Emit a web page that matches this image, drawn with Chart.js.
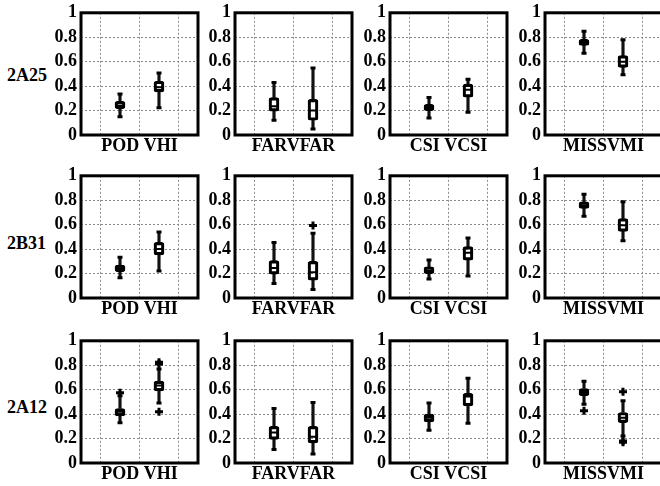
<!DOCTYPE html>
<html>
<head>
<meta charset="utf-8">
<script src="https://cdn.jsdelivr.net/npm/chart.js@4/dist/chart.umd.min.js"></script>
<style>
  html, body { margin: 0; padding: 0; background: #fff; }
  #wrap { position: relative; width: 660px; height: 486px; overflow: hidden; background: #fff; }
  #wrap canvas { position: absolute; }
  .row-name { position: absolute; left: 7px; height: 18px; line-height: 18px;
              font: bold 18px "Liberation Serif", "DejaVu Serif", serif; color: #000; white-space: nowrap; }
</style>
</head>
<body>
<div id="wrap"></div>
<script>
// Row (product) names and panel (score pair) titles
const rowNames = ['2A25', '2B31', '2A12'];
const panelTitles = ['POD VHI', 'FARVFAR', 'CSI VCSI', 'MISSVMI'];
const yTicks = [0, 0.2, 0.4, 0.6, 0.8, 1];
// category slots: the two boxes sit on the inner slots
const xSlots = ['s0', 'b1', 'b2', 's3'];

// Box statistics, indexed [row][panel][box]
const whiskerLow = [
  [[0.15, 0.223], [0.12, 0.05], [0.14, 0.187], [0.67, 0.493]],
  [[0.165, 0.22], [0.118, 0.069], [0.155, 0.18], [0.67, 0.469]],
  [[0.33, 0.49], [0.11, 0.074], [0.267, 0.325], [0.48, 0.22]]
];
const quart1 = [
  [[0.215, 0.353], [0.196, 0.121], [0.2, 0.31], [0.733, 0.554]],
  [[0.215, 0.353], [0.196, 0.146], [0.2, 0.31], [0.733, 0.545]],
  [[0.386, 0.59], [0.193, 0.165], [0.336, 0.468], [0.55, 0.33]]
];
const medians = [
  [[0.24, 0.39], [0.235, 0.2], [0.225, 0.37], [0.76, 0.6]],
  [[0.245, 0.4], [0.245, 0.21], [0.225, 0.37], [0.76, 0.595]],
  [[0.42, 0.634], [0.25, 0.215], [0.37, 0.545], [0.58, 0.37]]
];
const quart3 = [
  [[0.275, 0.44], [0.306, 0.292], [0.25, 0.416], [0.783, 0.65]],
  [[0.27, 0.455], [0.306, 0.3], [0.256, 0.42], [0.788, 0.65]],
  [[0.446, 0.67], [0.3, 0.3], [0.4, 0.57], [0.61, 0.413]]
];
const whiskerHigh = [
  [[0.335, 0.507], [0.43, 0.548], [0.306, 0.457], [0.849, 0.78]],
  [[0.333, 0.54], [0.455, 0.53], [0.31, 0.49], [0.849, 0.788]],
  [[0.55, 0.77], [0.446, 0.496], [0.49, 0.694], [0.67, 0.51]]
];
const outliers = [
  [[[], []], [[], []], [[], []], [[], []]],
  [[[], []], [[], [0.593]], [[], []], [[], []]],
  [[[0.575], [0.81, 0.825, 0.42]], [[], []], [[], []], [[0.427], [0.584, 0.18, 0.17]]]
];

// frame placement on the page
const colLeft = [81, 235, 390, 545];
const rowTop = [12, 175, 340];
const plotW = 118, plotH = 121;
const axisW = 60, padTop = 14, padRight = 6, xAxisH = 22;

const serif = '"Liberation Serif", "DejaVu Serif", serif';
const wrap = document.getElementById('wrap');

// draws the closed black frame round the plot area
const framePlugin = {
  id: 'frame',
  afterDraw(chart) {
    const a = chart.chartArea, ctx = chart.ctx;
    ctx.save();
    ctx.strokeStyle = '#000';
    ctx.lineWidth = 3;
    ctx.strokeRect(a.left, a.top, a.right - a.left, a.bottom - a.top);
    ctx.restore();
  }
};

function slotData(fn) {
  return [null, fn(0), fn(1), null];
}

rowNames.forEach((rn, r) => {
  const lab = document.createElement('div');
  lab.className = 'row-name';
  lab.textContent = rn;
  lab.style.top = [65, 233, 397][r] + 'px';
  wrap.appendChild(lab);

  panelTitles.forEach((title, c) => {
    const cv = document.createElement('canvas');
    const W = axisW + plotW + padRight, H = padTop + plotH + xAxisH + 2;
    cv.width = W; cv.height = H;
    cv.style.left = (colLeft[c] - axisW) + 'px';
    cv.style.top = (rowTop[r] - padTop) + 'px';
    wrap.appendChild(cv);

    const lo = whiskerLow[r][c], q1 = quart1[r][c], md = medians[r][c], q3 = quart3[r][c], hi = whiskerHigh[r][c];
    const caps = [], meds = [], outs = [];
    [0, 1].forEach(b => {
      const x = xSlots[b + 1];
      caps.push({ x, y: lo[b] }, { x, y: hi[b] });
      meds.push({ x, y: md[b] });
      outliers[r][c][b].forEach(v => outs.push({ x, y: v }));
    });

    new Chart(cv, {
      data: {
        labels: xSlots,
        datasets: [
          { type: 'line', data: outs, showLine: false, pointStyle: 'cross',
            pointRadius: 4, pointBorderWidth: 3, borderColor: '#000', backgroundColor: '#000' },
          { type: 'line', data: meds, showLine: false, pointStyle: 'line',
            pointRadius: 3.5, pointBorderWidth: 2, borderColor: '#000', backgroundColor: '#000' },
          { type: 'line', data: caps, showLine: false, pointStyle: 'line',
            pointRadius: 2.5, pointBorderWidth: 3, borderColor: '#000', backgroundColor: '#000' },
          { type: 'bar', data: slotData(b => [q1[b], q3[b]]), grouped: false,
            barThickness: 10, backgroundColor: 'rgba(255,255,255,0)', borderColor: '#000',
            borderWidth: 2.5, borderSkipped: false, borderRadius: 2.5 },
          { type: 'bar', data: slotData(b => [lo[b], q1[b]]), grouped: false,
            barThickness: 2.5, backgroundColor: '#111', borderWidth: 0 },
          { type: 'bar', data: slotData(b => [q3[b], hi[b]]), grouped: false,
            barThickness: 2.5, backgroundColor: '#111', borderWidth: 0 }
        ]
      },
      options: {
        responsive: false,
        animation: false,
        devicePixelRatio: 1,
        layout: { padding: { top: padTop, right: padRight, left: 0, bottom: 0 } },
        plugins: { legend: { display: false }, tooltip: { enabled: false } },
        scales: {
          x: {
            type: 'category', offset: false,
            grid: { color: '#8a8a8a', lineWidth: 1, drawTicks: false },
            border: { display: false, dash: [2, 2] },
            ticks: { display: false, autoSkip: false },
            title: { display: true, text: title, color: '#000', padding: 0,
                     font: { family: serif, weight: 'bold', size: 18 } },
            afterFit: s => { s.height = xAxisH; }
          },
          y: {
            min: 0, max: 1,
            afterBuildTicks: s => { s.ticks = yTicks.map(v => ({ value: v })); },
            grid: { color: '#8a8a8a', lineWidth: 1, drawTicks: false },
            border: { display: false, dash: [2, 2] },
            ticks: { color: '#000', padding: 4, autoSkip: false, callback: v => String(v),
                     font: { family: serif, weight: 'bold', size: 18 } },
            afterFit: s => { s.width = axisW; }
          }
        }
      },
      plugins: [framePlugin]
    });
  });
});
</script>
</body>
</html>
